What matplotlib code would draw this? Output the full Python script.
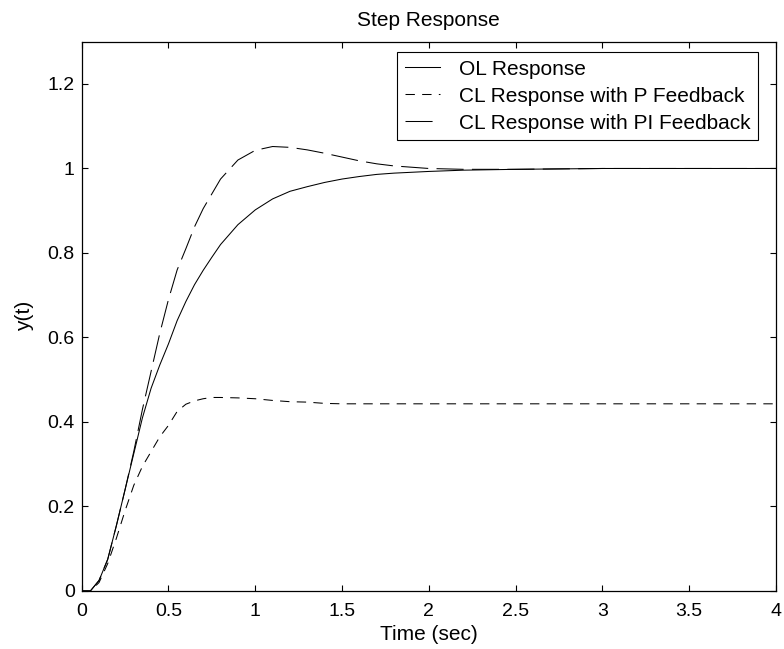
import matplotlib
matplotlib.use("Agg")
import matplotlib.pyplot as plt

plt.rcParams['font.family'] = ['Liberation Sans', 'DejaVu Sans']

t = [0, 0.05, 0.1, 0.15, 0.2, 0.25, 0.3, 0.35, 0.4, 0.45, 0.5, 0.55, 0.6, 0.65,
     0.7, 0.75, 0.8, 0.9, 1.0, 1.1, 1.2, 1.3, 1.4, 1.5, 1.6, 1.7, 1.8, 2.0, 2.2,
     2.5, 3.0, 3.5, 4.0]
y_ol = [0, 0.0, 0.025, 0.075, 0.155, 0.24, 0.325, 0.41, 0.48, 0.535, 0.585, 0.64,
        0.685, 0.725, 0.759, 0.79, 0.82, 0.867, 0.902, 0.928, 0.946, 0.957, 0.967,
        0.975, 0.981, 0.986, 0.989, 0.993, 0.996, 0.998, 1.0, 1.0, 1.0]
y_p = [0, 0.0, 0.02, 0.065, 0.125, 0.19, 0.25, 0.295, 0.33, 0.365, 0.392, 0.425,
       0.442, 0.45, 0.455, 0.458, 0.458, 0.457, 0.455, 0.451, 0.448, 0.447, 0.444,
       0.443, 0.443, 0.443, 0.443, 0.443, 0.443, 0.443, 0.443, 0.443, 0.443]
y_pi = [0, 0.0, 0.025, 0.075, 0.155, 0.24, 0.33, 0.43, 0.52, 0.61, 0.69, 0.76,
        0.81, 0.862, 0.905, 0.94, 0.975, 1.02, 1.043, 1.052, 1.05, 1.044, 1.036,
        1.027, 1.018, 1.011, 1.006, 1.0, 0.998, 0.998, 1.0, 1.0, 1.0]

labels = ["OL Response", "CL Response with P Feedback", "CL Response with PI Feedback"]
xticks = [0, 0.5, 1, 1.5, 2, 2.5, 3, 3.5, 4]
xticklabels = ["0", "0.5", "1", "1.5", "2", "2.5", "3", "3.5", "4"]
yticks = [0, 0.2, 0.4, 0.6, 0.8, 1.0, 1.2]
yticklabels = ["0", "0.2", "0.4", "0.6", "0.8", "1", "1.2"]

fs = 15
tfs = 14
fig = plt.figure(figsize=(7.84, 6.49), dpi=100)
ax = fig.add_axes([0.1042, 0.0894, 0.8856, 0.8463])

lw = 0.75
ax.plot(t, y_ol, color='black', lw=lw, linestyle='-', label=labels[0])
ax.plot(t, y_p, color='black', lw=lw, linestyle=(0, (9, 7)), label=labels[1])
ax.plot(t, y_pi, color='black', lw=lw, linestyle=(0, (26, 8)), label=labels[2])

ax.set_xlim(0, 4)
ax.set_ylim(0, 1.3)
ax.set_xticks(xticks)
ax.set_xticklabels(xticklabels, fontsize=tfs)
ax.set_yticks(yticks)
ax.set_yticklabels(yticklabels, fontsize=tfs)
ax.tick_params(direction='in', length=4, width=0.8, top=True, right=True)
ax.tick_params(axis='x', pad=9)
ax.tick_params(axis='y', pad=5)
for s in ax.spines.values():
    s.set_linewidth(0.9)

ax.set_title("Step Response", fontsize=fs, pad=11)
ax.set_xlabel("Time (sec)", fontsize=fs, labelpad=3)
ax.set_ylabel("y(t)", fontsize=fs, labelpad=10)

leg = ax.legend(loc='upper left', bbox_to_anchor=(397/784, 1-52/649),
                bbox_transform=fig.transFigure, fontsize=fs, fancybox=False,
                framealpha=1, edgecolor='black', handlelength=1.7,
                handletextpad=0.9, labelspacing=0.38, borderpad=0.37,
                borderaxespad=0)
leg.get_frame().set_linewidth(0.8)

fig.savefig("out.png", dpi=100)
